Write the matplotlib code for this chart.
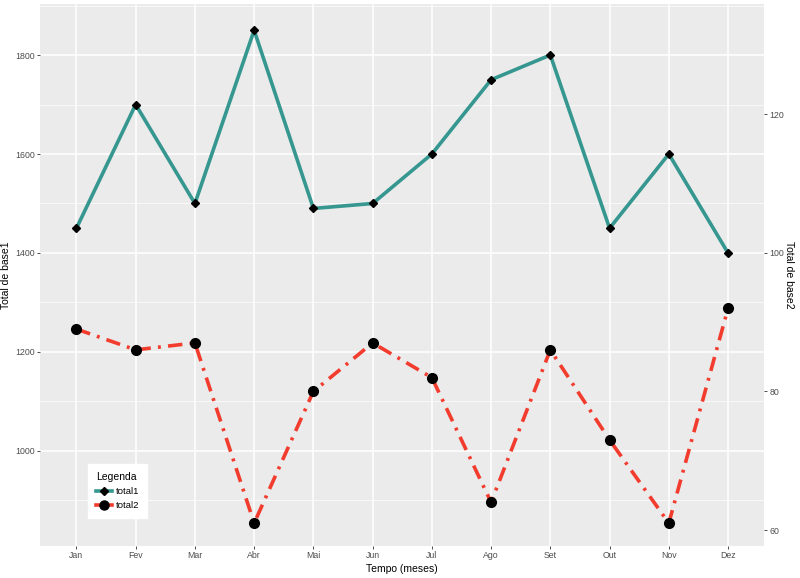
import matplotlib
matplotlib.use("Agg")
import matplotlib.pyplot as plt
from matplotlib.lines import Line2D
from matplotlib.ticker import MultipleLocator

plt.rcParams['font.family'] = ['Liberation Sans', 'DejaVu Sans']

months = ["Jan", "Fev", "Mar", "Abr", "Mai", "Jun", "Jul", "Ago", "Set", "Out", "Nov", "Dez"]
total1 = [1450, 1700, 1500, 1850, 1490, 1500, 1600, 1750, 1800, 1450, 1600, 1400]
total2 = [89, 86, 87, 61, 80, 87, 82, 64, 86, 73, 61, 92]

teal = "#35978F"
red = "#F23C2E"
grey_txt = "#4D4D4D"

fig = plt.figure(figsize=(8, 5.78), dpi=100)
ax = fig.add_axes([0.0506, 0.0554, 0.9044, 0.9376])
ax.set_facecolor("#EBEBEB")
for s in ax.spines.values():
    s.set_visible(False)

x = list(range(1, len(months) + 1))
ax.set_xlim(0.393, 12.607)
ax.set_ylim(808, 1903)
ax.yaxis.set_major_locator(MultipleLocator(200))
ax.yaxis.set_minor_locator(MultipleLocator(100))
ax.set_xticks(x)
ax.set_xticklabels(months)
ax.grid(which="major", color="white", lw=1.1)
ax.grid(which="minor", axis="y", color="white", lw=0.5)
ax.set_axisbelow(True)
ax.tick_params(axis="both", which="major", labelsize=6.3, labelcolor=grey_txt, color="#333333",
               length=2.2, width=0.6, pad=1.5)
ax.tick_params(axis="y", which="minor", length=0)

ax.plot(x, total1, color=teal, lw=2.6, zorder=3)
ax.plot(x, total1, linestyle="none", marker="D", color="black", ms=4.5, zorder=4)

ax2 = ax.twinx()
for s in ax2.spines.values():
    s.set_visible(False)
ax2.set_ylim(57.7, 135.9)
ax2.yaxis.set_major_locator(MultipleLocator(20))
ax2.tick_params(axis="y", labelsize=6.3, labelcolor=grey_txt, color="#333333", length=2.2, width=0.6, pad=1.5)
ax2.plot(x, total2, color=red, lw=2.6, linestyle=(0, (4, 2, 0.8, 2)), zorder=3)
ax2.plot(x, total2, linestyle="none", marker="o", color="black", ms=7, zorder=4)

ax.set_xlabel("Tempo (meses)", fontsize=7.5, color="black", labelpad=3)
ax.set_ylabel("Total de base1", fontsize=7.5, color="black", va="center")
ax.yaxis.set_label_coords(-0.047, 0.5)
ax2.set_ylabel("Total de base2", fontsize=7.5, color="black", rotation=270, va="center")
ax2.yaxis.set_label_coords(1.034, 0.5)

handles = [
    Line2D([0], [0], color=teal, lw=2.6, marker="D", markerfacecolor="black", markeredgecolor="black", ms=4.5),
    Line2D([0], [0], color=red, lw=2.6, marker="o", markerfacecolor="black", markeredgecolor="black", ms=6.5),
]
leg = ax2.legend(handles, ["total1", "total2"], title="Legenda", loc="lower left",
                 bbox_to_anchor=(0.066, 0.052), fontsize=6.8, title_fontsize=7.5,
                 frameon=True, fancybox=False, handlelength=1.7, borderpad=0.8,
                 handletextpad=0.4, labelspacing=0.55, borderaxespad=0)
leg.get_frame().set_edgecolor("white")
leg.get_frame().set_facecolor("white")
leg.get_frame().set_alpha(1)
leg._legend_box.align = "left"
fig.canvas.draw()
bb = leg.get_frame().get_bbox()
leg.get_frame().set_width(bb.width * 1.3)

fig.savefig("out.png", dpi=100)
